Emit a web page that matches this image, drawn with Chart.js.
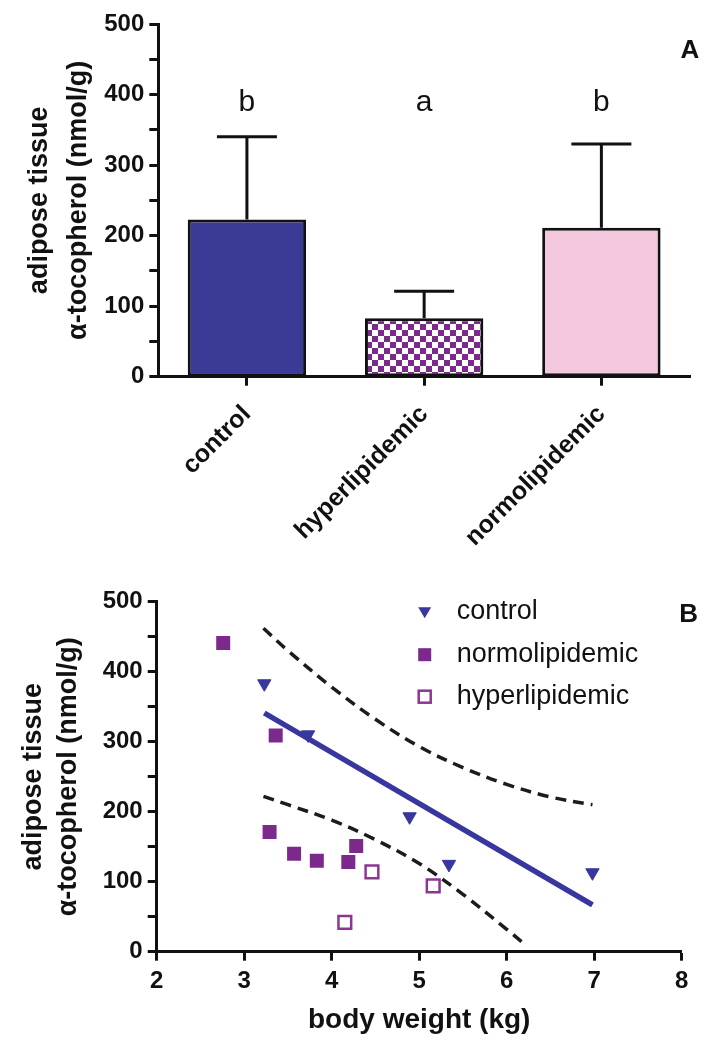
<!DOCTYPE html>
<html lang="en">
<head>
<meta charset="UTF-8">
<title>Adipose tissue alpha-tocopherol</title>
<style>
  html, body { margin: 0; padding: 0; background: #fff; }
  .figure { position: relative; width: 724px; height: 1050px; }
  #barChart { position: absolute; left: 0; top: 0; }
  #scatterChart { position: absolute; left: 0; top: 560px; }
</style>
</head>
<body>
<div class="figure">
  <canvas id="barChart" width="724" height="560"></canvas>
  <canvas id="scatterChart" width="724" height="490"></canvas>
</div>

<script src="https://cdn.jsdelivr.net/npm/chart.js@4"></script>
<script>
  // panel A: group means + upper SD
  const groups = ['control', 'hyperlipidemic', 'normolipidemic'];
  const meanToco = [223, 83, 211];
  const sdToco = [117, 38, 119];
  const sigLetters = ['b', 'a', 'b'];

  // panel B: body weight (kg) vs tocopherol
  const controlWeight = [3.23, 3.73, 4.89, 5.34, 6.98];
  const controlToco = [383, 310, 193, 125, 113];
  const normoWeight = [2.76, 3.29, 3.36, 3.57, 3.83, 4.19, 4.28];
  const normoToco = [441, 171, 309, 140, 130, 128, 151];
  const hyperWeight = [4.15, 4.46, 5.16];
  const hyperToco = [42, 114, 94];

  // regression line (control) and its 95% band
  const fitWeight = [3.23, 6.98];
  const fitToco = [341, 67];
  const upperWeight = [3.22, 3.5, 4.0, 4.5, 5.0, 5.5, 6.0, 6.5, 6.98];
  const upperToco = [462, 430, 378, 332, 293, 263, 239, 221, 210];
  const lowerWeight = [3.22, 3.5, 4.0, 4.5, 5.0, 5.5, 6.0, 6.23];
  const lowerToco = [222, 210, 188, 160, 126, 82, 32, 8];

  const toPoints = (xs, ys) => xs.map((x, i) => ({ x: x, y: ys[i] }));

  const FONT = '"Liberation Sans", Arial, Helvetica, sans-serif';
  Chart.defaults.font.family = FONT;
  Chart.defaults.color = '#111';

  const BLUE = '#37379f';
  const PURPLE = '#7b2a8c';
  const PINK = '#f3c8df';

  const yTitleText = ['adipose tissue', 'α-tocopherol (nmol/g)'];
  const axisGrid = { drawOnChartArea: false, drawTicks: true, tickLength: 9, tickWidth: 3, tickColor: '#111' };
  const axisBorder = { color: '#111', width: 3 };
  const hundreds = v => (v % 100 === 0 ? v : '');

  // ---- Panel A ----
  const barCanvas = document.getElementById('barChart');
  const barCtx = barCanvas.getContext('2d');

  const checker = (() => {
    const c = document.createElement('canvas');
    c.width = 12; c.height = 12;
    const g = c.getContext('2d');
    g.fillStyle = '#fff'; g.fillRect(0, 0, 12, 12);
    g.fillStyle = PURPLE;
    g.fillRect(0, 0, 6, 6);
    g.fillRect(6, 6, 6, 6);
    return barCtx.createPattern(c, 'repeat');
  })();

  const errorBars = {
    id: 'errorBars',
    afterDatasetsDraw(chart) {
      const ctx = chart.ctx;
      const y = chart.scales.y;
      const area = chart.chartArea;
      ctx.save();
      ctx.strokeStyle = '#111';
      ctx.lineWidth = 3;
      chart.getDatasetMeta(0).data.forEach((bar, i) => {
        const top = y.getPixelForValue(meanToco[i] + sdToco[i]);
        ctx.beginPath();
        ctx.moveTo(bar.x, bar.y);
        ctx.lineTo(bar.x, top);
        ctx.moveTo(bar.x - 30, top);
        ctx.lineTo(bar.x + 30, top);
        ctx.stroke();

        ctx.fillStyle = '#111';
        ctx.font = '30px ' + FONT;
        ctx.textAlign = 'center';
        ctx.textBaseline = 'alphabetic';
        ctx.fillText(sigLetters[i], bar.x, y.getPixelForValue(376));
      });
      ctx.font = 'bold 26px ' + FONT;
      ctx.textAlign = 'center';
      ctx.fillText('A', area.right, area.top + 34);
      ctx.restore();
    }
  };

  new Chart(barCtx, {
    type: 'bar',
    data: {
      labels: groups,
      datasets: [{
        data: meanToco,
        backgroundColor: ['#3b3a97', checker, PINK],
        borderColor: '#111',
        borderWidth: 3,
        borderSkipped: false,
        barPercentage: 0.668,
        categoryPercentage: 1
      }]
    },
    options: {
      responsive: false,
      animation: false,
      layout: { padding: { left: 0, top: 24, right: 34, bottom: 0 } },
      plugins: { legend: { display: false }, tooltip: { enabled: false } },
      scales: {
        x: {
          grid: Object.assign({ offset: false }, axisGrid),
          border: axisBorder,
          ticks: {
            minRotation: 45, maxRotation: 45, autoSkip: false, padding: 14,
            color: '#111', font: { size: 25, weight: 'bold' }
          },
          afterFit: s => { s.height = 183.3; }
        },
        y: {
          min: 0, max: 500,
          grid: axisGrid,
          border: axisBorder,
          ticks: { stepSize: 50, padding: 5, color: '#111', font: { size: 24, weight: 'bold' }, callback: hundreds },
          title: {
            display: true, text: yTitleText,
            font: { size: 27, weight: 'bold', lineHeight: 1.45 },
            padding: { top: 20, bottom: 0 }
          },
          afterFit: s => { s.width = 158.3; }
        }
      }
    },
    plugins: [errorBars]
  });

  // ---- Panel B ----
  const scatterLegend = {
    id: 'scatterLegend',
    afterDraw(chart) {
      const ctx = chart.ctx;
      const area = chart.chartArea;
      const mx = area.right - 257;
      const tx = area.right - 225;
      const rows = [area.top + 10, area.top + 53, area.top + 95];
      ctx.save();
      // control: down triangle
      ctx.fillStyle = BLUE;
      ctx.beginPath();
      ctx.moveTo(mx - 6.5, rows[0] - 4.5);
      ctx.lineTo(mx + 6.5, rows[0] - 4.5);
      ctx.lineTo(mx, rows[0] + 6.5);
      ctx.closePath();
      ctx.fill();
      // normolipidemic: filled square
      ctx.fillStyle = PURPLE;
      ctx.fillRect(mx - 6.5, rows[1] - 6.5, 13, 13);
      // hyperlipidemic: open square
      ctx.strokeStyle = '#8d3594';
      ctx.lineWidth = 2.5;
      ctx.strokeRect(mx - 6, rows[2] - 6, 12, 12);

      ctx.fillStyle = '#111';
      ctx.font = '27px ' + FONT;
      ctx.textAlign = 'left';
      ctx.textBaseline = 'middle';
      ctx.fillText('control', tx, rows[0]);
      ctx.fillText('normolipidemic', tx, rows[1]);
      ctx.fillText('hyperlipidemic', tx, rows[2]);

      ctx.font = 'bold 26px ' + FONT;
      ctx.textAlign = 'center';
      ctx.textBaseline = 'alphabetic';
      ctx.fillText('B', area.right + 7, area.top + 20);
      ctx.restore();
    }
  };

  const bandStyle = {
    showLine: true, pointRadius: 0, borderColor: '#1c1c1c', borderWidth: 3.5,
    borderDash: [11, 7], tension: 0.35, fill: false, order: 2
  };

  new Chart(document.getElementById('scatterChart'), {
    type: 'scatter',
    data: {
      datasets: [
        {
          label: 'control',
          data: toPoints(controlWeight, controlToco),
          pointStyle: 'triangle', rotation: 180, pointRadius: 7.7,
          backgroundColor: BLUE, borderColor: BLUE, borderWidth: 1, order: 0
        },
        {
          label: 'normolipidemic',
          data: toPoints(normoWeight, normoToco),
          pointStyle: 'rect', pointRadius: 9.9,
          backgroundColor: PURPLE, borderWidth: 0, order: 0
        },
        {
          label: 'hyperlipidemic',
          data: toPoints(hyperWeight, hyperToco),
          pointStyle: 'rect', pointRadius: 9,
          backgroundColor: '#fff', borderColor: '#8d3594', borderWidth: 2.5, order: 0
        },
        Object.assign({ label: 'upper 95% CI', data: toPoints(upperWeight, upperToco) }, bandStyle),
        Object.assign({ label: 'lower 95% CI', data: toPoints(lowerWeight, lowerToco) }, bandStyle),
        {
          label: 'fit',
          data: toPoints(fitWeight, fitToco),
          showLine: true, pointRadius: 0, borderColor: BLUE, borderWidth: 5.5, order: 1
        }
      ]
    },
    options: {
      responsive: false,
      animation: false,
      layout: { padding: { left: 0, top: 41.7, right: 42.3, bottom: 0 } },
      plugins: { legend: { display: false }, tooltip: { enabled: false } },
      scales: {
        x: {
          type: 'linear', min: 2, max: 8,
          grid: axisGrid,
          border: axisBorder,
          ticks: { stepSize: 1, padding: 6, color: '#111', font: { size: 24, weight: 'bold' } },
          title: {
            display: true, text: 'body weight (kg)',
            font: { size: 28, weight: 'bold', lineHeight: 1.2 },
            padding: { top: 0, bottom: 13 }
          },
          afterFit: s => { s.height = 98.3; }
        },
        y: {
          min: 0, max: 500,
          grid: axisGrid,
          border: axisBorder,
          ticks: { stepSize: 50, padding: 5, color: '#111', font: { size: 24, weight: 'bold' }, callback: hundreds },
          title: {
            display: true, text: yTitleText,
            font: { size: 27, weight: 'bold', lineHeight: 1.3 },
            padding: { top: 16, bottom: 0 }
          },
          afterFit: s => { s.width = 156.7; }
        }
      }
    },
    plugins: [scatterLegend]
  });
</script>
</body>
</html>
